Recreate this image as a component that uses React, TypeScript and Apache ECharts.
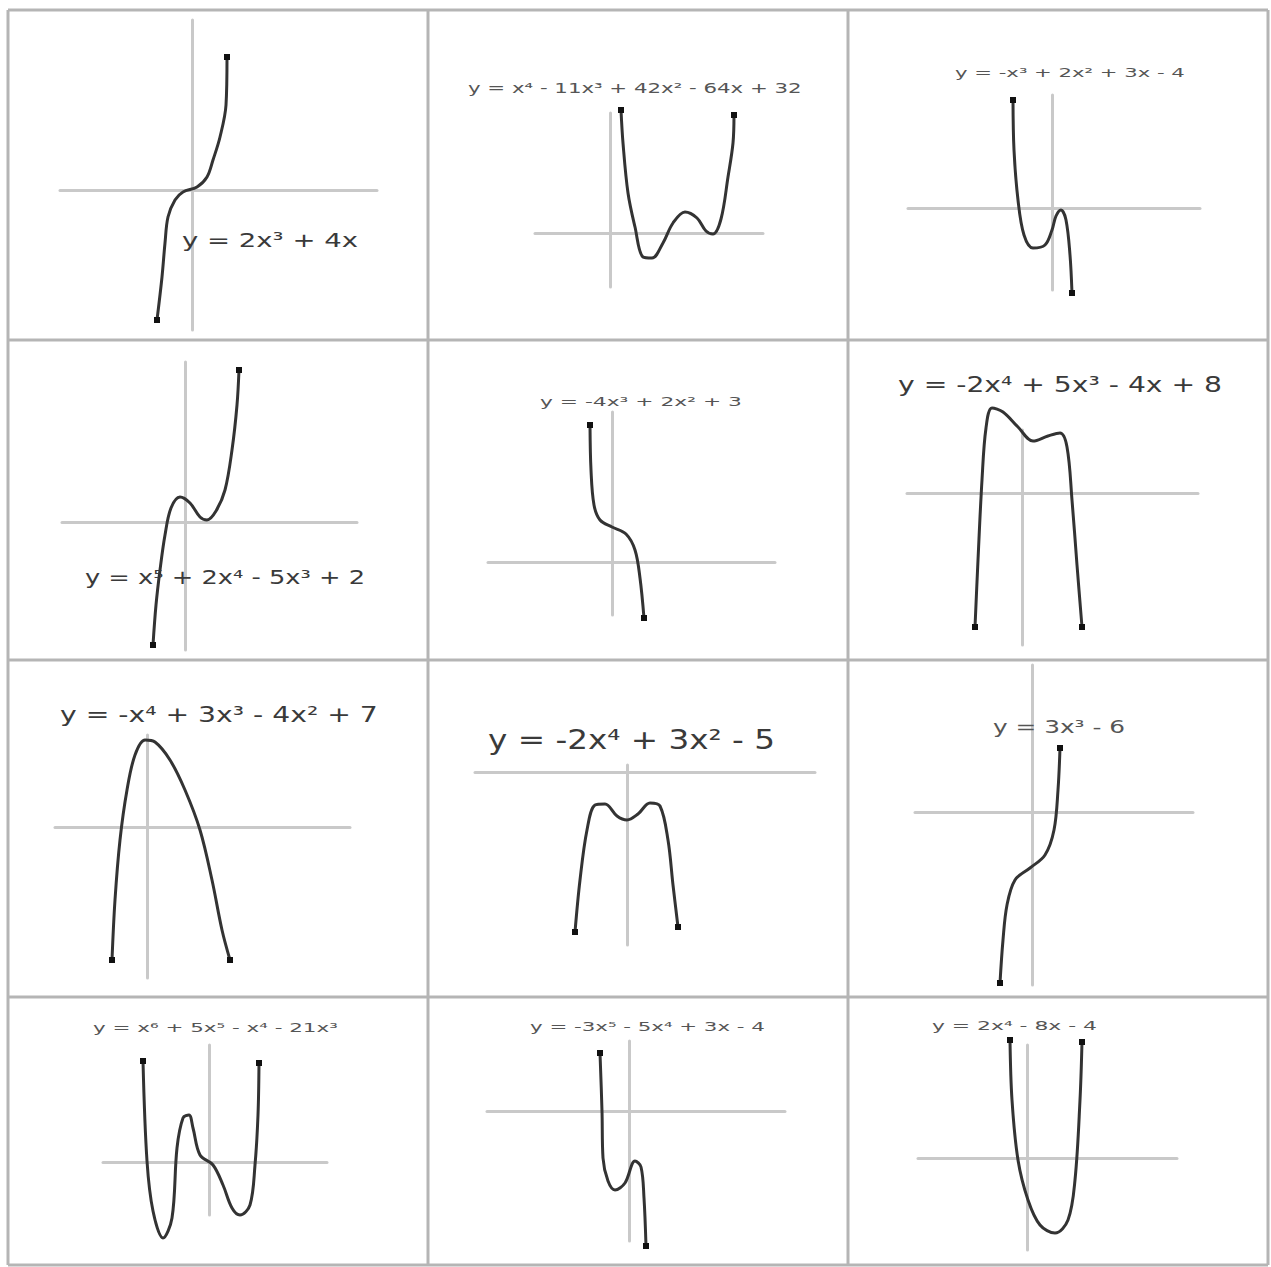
import React, { useEffect, useRef } from "react";
import * as echarts from "echarts";

// Equations written above each small graph (row by row, left to right)
const equations = [
  "y = 2x³ + 4x",
  "y = x⁴ - 11x³ + 42x² - 64x + 32",
  "y = -x³ + 2x² + 3x - 4",
  "y = x⁵ + 2x⁴ - 5x³ + 2",
  "y = -4x³ + 2x² + 3",
  "y = -2x⁴ + 5x³ - 4x + 8",
  "y = -x⁴ + 3x³ - 4x² + 7",
  "y = -2x⁴ + 3x² - 5",
  "y = 3x³ - 6",
  "y = x⁶ + 5x⁵ - x⁴ - 21x³",
  "y = -3x⁵ - 5x⁴ + 3x - 4",
  "y = 2x⁴ - 8x - 4",
];

// Curve points, [x, y] in each graph's own units
const curve1 = [[-3.5, -13.0], [-3.0, -8.7], [-2.7, -5.3], [-2.4, -2.7], [-1.7, -1.0], [-0.9, -0.2], [0.5, 0.3], [1.5, 1.3], [2.1, 3.0], [2.8, 5.3], [3.4, 8.5], [3.5, 13.3]];
const curve2 = [[1.1, 12.3], [1.3, 9.0], [1.8, 4.0], [2.5, 0.6], [3.3, -2.4], [4.2, -2.5], [5.3, -1.0], [6.3, 1.0], [7.5, 2.1], [8.7, 1.5], [9.6, 0.2], [10.3, -0.1], [11.1, 1.4], [11.8, 5.6], [12.3, 9.0], [12.4, 11.8]];
const curve3 = [[-3.9, 10.8], [-3.8, 5.8], [-3.4, 0.8], [-2.8, -2.7], [-1.9, -4.0], [-0.7, -3.7], [0.0, -2.2], [0.4, -0.8], [0.9, -0.2], [1.4, -1.2], [1.8, -4.7], [2.0, -8.5]];
const curve4 = [[-3.2, -12.3], [-2.9, -8.3], [-2.5, -4.8], [-2.0, -1.3], [-1.4, 1.4], [-0.5, 2.5], [0.5, 1.9], [1.5, 0.5], [2.2, 0.2], [3.1, 1.1], [4.0, 3.2], [4.7, 7.2], [5.2, 11.7], [5.4, 15.2]];
const curve5 = [[-2.2, 13.7], [-2.1, 9.2], [-1.8, 5.7], [-1.2, 4.2], [0.0, 3.5], [1.4, 2.8], [2.3, 1.2], [2.8, -1.6], [3.2, -5.6]];
const curve6 = [[-4.7, -13.4], [-4.4, -6.7], [-4.0, 1.3], [-3.6, 6.5], [-3.0, 8.5], [-1.9, 8.1], [-0.4, 6.6], [1.1, 5.2], [2.6, 5.7], [3.8, 6.0], [4.5, 4.6], [5.0, -0.7], [5.5, -7.2], [6.0, -13.4]];
const curve7 = [[-3.5, -13.3], [-3.2, -7.3], [-2.7, -1.3], [-2.0, 3.7], [-1.2, 7.2], [-0.2, 8.7], [0.8, 8.5], [2.3, 6.7], [3.8, 3.7], [5.3, -0.3], [6.5, -5.3], [7.5, -10.3], [8.3, -13.3]];
const curve8 = [[-5.2, -16.0], [-4.7, -10.8], [-4.0, -5.8], [-3.2, -3.3], [-2.2, -3.2], [-1.0, -4.4], [0.0, -4.8], [1.1, -4.2], [2.3, -3.1], [3.3, -3.4], [4.1, -6.8], [4.6, -11.3], [5.1, -15.5]];
const curve9 = [[-3.2, -17.1], [-2.9, -12.8], [-2.5, -9.3], [-1.7, -6.8], [-0.2, -5.6], [1.3, -4.3], [2.2, -1.8], [2.6, 2.2], [2.8, 6.4]];
const curve10 = [[-6.6, 10.1], [-6.2, 0.1], [-5.6, -4.9], [-4.6, -7.6], [-3.7, -5.6], [-3.2, 1.4], [-2.6, 4.4], [-2.0, 4.7], [-1.6, 3.4], [-0.9, 0.7], [0.4, -0.3], [1.4, -2.3], [2.3, -4.6], [3.1, -5.3], [4.1, -4.3], [4.6, -0.3], [4.9, 4.7], [5.0, 9.9]];
const curve11 = [[-2.9, 5.8], [-2.7, 0.0], [-2.6, -4.7], [-2.1, -7.0], [-1.4, -7.9], [-0.4, -7.2], [0.6, -5.0], [1.2, -5.6], [1.5, -8.7], [1.7, -13.5]];
const curve12 = [[-1.7, 11.8], [-1.5, 5.8], [-0.9, -0.2], [0.1, -4.2], [1.3, -6.7], [2.8, -7.5], [4.1, -6.2], [4.8, -2.2], [5.3, 5.8], [5.5, 11.6]];

const curves = [curve1, curve2, curve3, curve4, curve5, curve6, curve7, curve8, curve9, curve10, curve11, curve12];

// Axis extents of each graph, in the same units
const xExtents = [[-13.2, 18.5], [-7.5, 15.3], [-14.4, 14.8], [-12.3, 17.2], [-12.4, 16.3], [-11.5, 17.6], [-9.2, 20.3], [-15.2, 18.8], [-11.7, 16.1], [-10.6, 11.8], [-14.2, 15.6], [-10.9, 15.0]];
const yExtents = [[-14.0, 17.0], [-5.4, 12.0], [-8.2, 11.3], [-12.8, 16.0], [-5.3, 15.0], [-15.2, 6.3], [-15.1, 9.2], [-17.3, 0.7], [-17.3, 14.7], [-5.3, 11.7], [-13.0, 7.0], [-9.2, 11.3]];

// ---- layout (pixels) ----
// grid boxes: [left, top, right, bottom]
const gridBoxes = [
  [60, 20, 377, 330], [535, 113, 763, 287], [908, 95, 1200, 290],
  [62, 362, 357, 650], [488, 412, 775, 615], [907, 430, 1198, 645],
  [55, 735, 350, 978], [475, 765, 815, 945], [915, 665, 1193, 985],
  [103, 1045, 327, 1215], [487, 1041, 785, 1241], [918, 1045, 1177, 1250],
];
// label boxes: [left, right, centerY, fontSize]
const labelBoxes = [
  [182, 358, 240, 20], [468, 802, 88, 14], [955, 1185, 73, 13],
  [85, 365, 577, 19], [540, 742, 401, 13], [898, 1222, 385, 22],
  [60, 378, 715, 21], [488, 775, 740, 26], [993, 1125, 727, 17],
  [93, 338, 1028, 13], [530, 765, 1027, 13], [932, 1097, 1025, 13],
];
const colLines = [8, 428, 848, 1268];
const rowLines = [10, 340, 660, 997, 1265];

const FONT = "DejaVu Sans";

function measure(text: string, size: number): number {
  const c = document.createElement("canvas").getContext("2d");
  if (!c) return text.length * size * 0.6;
  c.font = `${size}px "${FONT}"`;
  return c.measureText(text).width;
}

export default function App() {
  const ref = useRef<HTMLDivElement>(null);
  useEffect(() => {
    document.body.style.margin = "0";
    if (!ref.current) return;
    const chart = echarts.init(ref.current, null, { renderer: "svg" });

    const axisLine = { show: true, onZero: true, lineStyle: { color: "#c9c9c9", width: 3 } };
    const grids = gridBoxes.map(([l, t, r, b]) => ({
      left: l, top: t, width: r - l, height: b - t, show: false, containLabel: false, outerBoundsMode: "none",
    }));
    const xAxis = xExtents.map(([mn, mx], i) => ({
      type: "value", gridIndex: i, min: mn, max: mx,
      axisLine, axisTick: { show: false }, axisLabel: { show: false }, splitLine: { show: false },
    }));
    const yAxis = yExtents.map(([mn, mx], i) => ({
      type: "value", gridIndex: i, min: mn, max: mx,
      axisLine, axisTick: { show: false }, axisLabel: { show: false }, splitLine: { show: false },
    }));
    const series = curves.map((c, i) => ({
      type: "line", xAxisIndex: i, yAxisIndex: i, data: c, smooth: 0.35, clip: false,
      symbol: "rect", showSymbol: true,
      symbolSize: (_v: any, p: any) => (p.dataIndex === 0 || p.dataIndex === c.length - 1 ? 6 : 0),
      lineStyle: { color: "#333", width: 3 }, itemStyle: { color: "#111" }, silent: true, z: 3,
    }));

    const graphics: any[] = [];
    colLines.forEach((x) => graphics.push({
      type: "line", shape: { x1: x, y1: rowLines[0], x2: x, y2: rowLines[rowLines.length - 1] },
      style: { stroke: "#b5b5b5", lineWidth: 3 }, silent: true,
    }));
    rowLines.forEach((y) => graphics.push({
      type: "line", shape: { x1: colLines[0], y1: y, x2: colLines[colLines.length - 1], y2: y },
      style: { stroke: "#b5b5b5", lineWidth: 3 }, silent: true,
    }));
    equations.forEach((text, i) => {
      const [l, r, cy, size] = labelBoxes[i];
      const w = measure(text, size);
      graphics.push({
        type: "text", x: l, y: cy, scaleX: (r - l) / w, z: 10, silent: true,
        style: {
          text, fontSize: size, fontFamily: FONT, fill: size >= 19 ? "#3a3a3a" : "#555",
          textAlign: "left", textVerticalAlign: "middle", align: "left", verticalAlign: "middle",
        },
      });
    });

    chart.setOption({
      animation: false,
      backgroundColor: "#ffffff",
      grid: grids,
      xAxis,
      yAxis,
      series,
      graphic: graphics,
    } as any);
    return () => chart.dispose();
  }, []);
  return <div ref={ref} style={{ width: 1271, height: 1267 }} />;
}
